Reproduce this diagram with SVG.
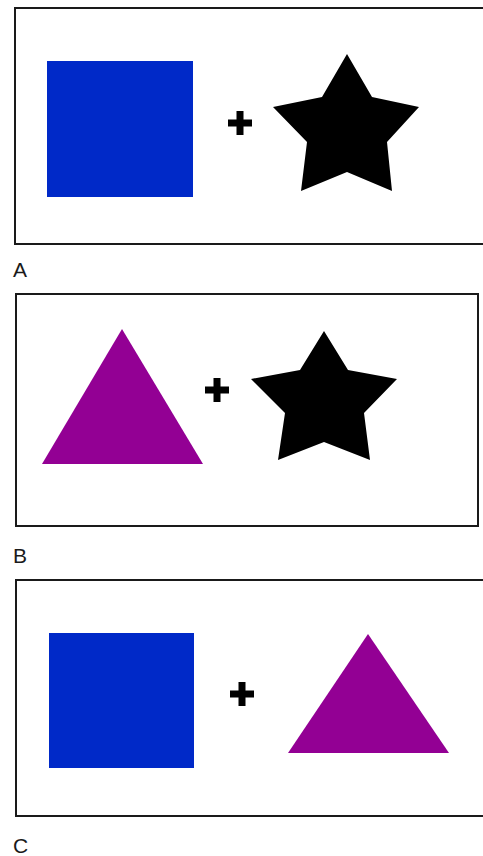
<svg xmlns="http://www.w3.org/2000/svg" width="483" height="856" viewBox="0 0 483 856">
<style>
.frame{fill:none;stroke:#1a1a1a;stroke-width:2}
.sq{fill:#0029c8}
.tri{fill:#930094}
.star{fill:#000}
.plus{fill:#000}
.lbl{font-family:"Liberation Sans",Arial,sans-serif;font-size:21px;fill:#1a1a1a}
</style>
<defs>
<path id="plusShape" d="M-3.5,-12 H3.5 V-3.5 H12 V3.5 H3.5 V12 H-3.5 V3.5 H-12 V-3.5 H-3.5 Z"/>
</defs>
<rect width="483" height="856" fill="#fff"/>
<g id="panelA">
<path class="frame" d="M490,8 H15 V244 H490"/>
<rect class="sq" x="47" y="61" width="146" height="136"/>
<use class="plus" href="#plusShape" x="240" y="123"/>
<polygon class="star" points="347,54 372,97 419,107 387,142 392,191 347,172 301,191 307,142 273,107 322,97"/>
<text class="lbl" x="13" y="277">A</text>
</g>
<g id="panelB">
<rect class="frame" x="16" y="294" width="462" height="232"/>
<polygon class="tri" points="122,329 203,464 42,464"/>
<use class="plus" href="#plusShape" x="217" y="390"/>
<polygon class="star" points="324,331 348,370 397,379 364,413 370,460 324,442 278,460 285,413 251,379 300,370"/>
<text class="lbl" x="13" y="563">B</text>
</g>
<g id="panelC">
<path class="frame" d="M490,580 H16 V816 H490"/>
<rect class="sq" x="49" y="633" width="145" height="135"/>
<use class="plus" href="#plusShape" x="242" y="694"/>
<polygon class="tri" points="368,634 449,753 288,753"/>
<text class="lbl" x="13" y="853">C</text>
</g>
<g id="connectors"/>
</svg>
